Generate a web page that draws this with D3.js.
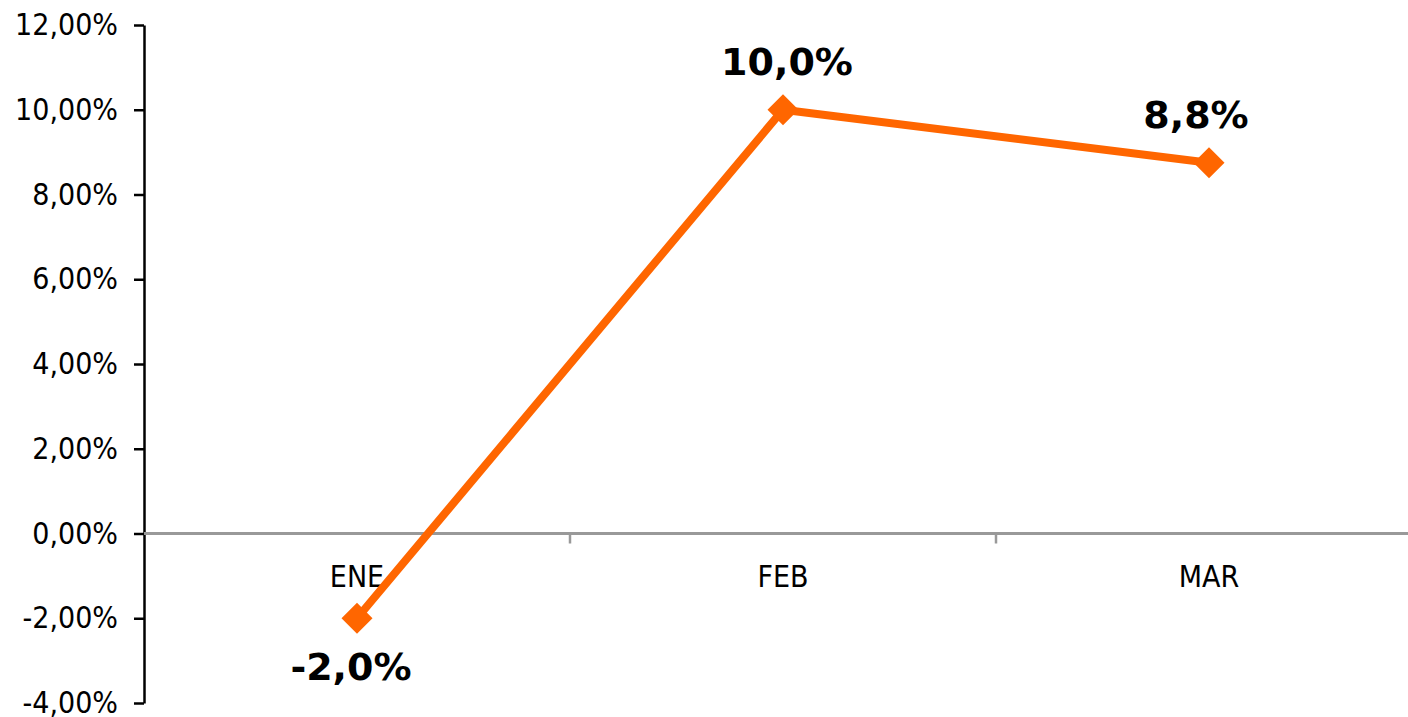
<!DOCTYPE html>
<html>
<head>
<meta charset="utf-8">
<script src="https://cdn.jsdelivr.net/npm/d3@7"></script>
<style>
  html, body { margin: 0; padding: 0; background: #fff; }
  svg { display: block; }
</style>
</head>
<body>
<svg id="chart" width="1408" height="717"></svg>
<script>
const categories = ["ENE", "FEB", "MAR"];
const values = [-2.0, 10.0, 8.75];
const dataLabels = ["-2,0%", "10,0%", "8,8%"];
const yTicks = [-4, -2, 0, 2, 4, 6, 8, 10, 12];
const yTickLabels = ["-4,00%", "-2,00%", "0,00%", "2,00%", "4,00%", "6,00%", "8,00%", "10,00%", "12,00%"];

const svg = d3.select("#chart");
const x = d3.scaleBand().domain(categories).range([144, 1422]).padding(0);
const y = d3.scaleLinear().domain([-4, 12]).range([703, 25]);
const tickFont = "'DejaVu Sans Condensed', 'DejaVu Sans', sans-serif";

// Y axis
const yAxis = d3.axisLeft(y).tickValues(yTicks)
  .tickFormat((d, i) => yTickLabels[i]).tickSize(10).tickSizeOuter(0).tickPadding(16);
const gy = svg.append("g").attr("transform", "translate(144,0)").call(yAxis);
gy.select(".domain").attr("stroke", "#000").attr("stroke-width", 2.5);
gy.selectAll(".tick line").attr("stroke", "#000").attr("stroke-width", 2.5);
gy.selectAll(".tick text").attr("font-family", tickFont)
  .attr("font-size", 30).attr("fill", "#000");

// Zero line (category axis)
const gx = svg.append("g").attr("transform", `translate(0,${y(0)})`);
gx.append("line").attr("x1", 144).attr("x2", 1422).attr("y1", 0).attr("y2", 0)
  .attr("stroke", "#999").attr("stroke-width", 3);
categories.slice(1).forEach(c => {
  gx.append("line").attr("x1", x(c)).attr("x2", x(c)).attr("y1", 0).attr("y2", 10)
    .attr("stroke", "#999").attr("stroke-width", 2.5);
});
gx.selectAll("text.cat").data(categories).join("text")
  .attr("class", "cat")
  .attr("x", d => x(d) + x.bandwidth() / 2)
  .attr("y", 53)
  .attr("text-anchor", "middle")
  .attr("font-family", tickFont)
  .attr("font-size", 30).attr("fill", "#000")
  .text(d => d);

// Line
const cx = d => x(d) + x.bandwidth() / 2;
const line = d3.line().x((d, i) => cx(categories[i])).y(d => y(d));
svg.append("path").datum(values).attr("d", line)
  .attr("fill", "none").attr("stroke", "#FF6600").attr("stroke-width", 8)
  .attr("stroke-linejoin", "round");

// Diamond markers
svg.selectAll("path.mk").data(values).join("path")
  .attr("class", "mk")
  .attr("d", d3.symbol().type(d3.symbolSquare).size(480))
  .attr("transform", (d, i) => `translate(${cx(categories[i])},${y(d)}) rotate(45)`)
  .attr("fill", "#FF6600");

// Data labels
const labelShift = [-6, 4, -13];
svg.selectAll("text.lbl").data(values).join("text")
  .attr("class", "lbl")
  .attr("x", (d, i) => cx(categories[i]) + labelShift[i])
  .attr("y", d => d < 0 ? y(d) + 62 : y(d) - 35)
  .attr("text-anchor", "middle")
  .attr("font-family", "'DejaVu Sans', Verdana, sans-serif")
  .attr("font-weight", "bold")
  .attr("font-size", 38).attr("fill", "#000")
  .text((d, i) => dataLabels[i]);
</script>
</body>
</html>
